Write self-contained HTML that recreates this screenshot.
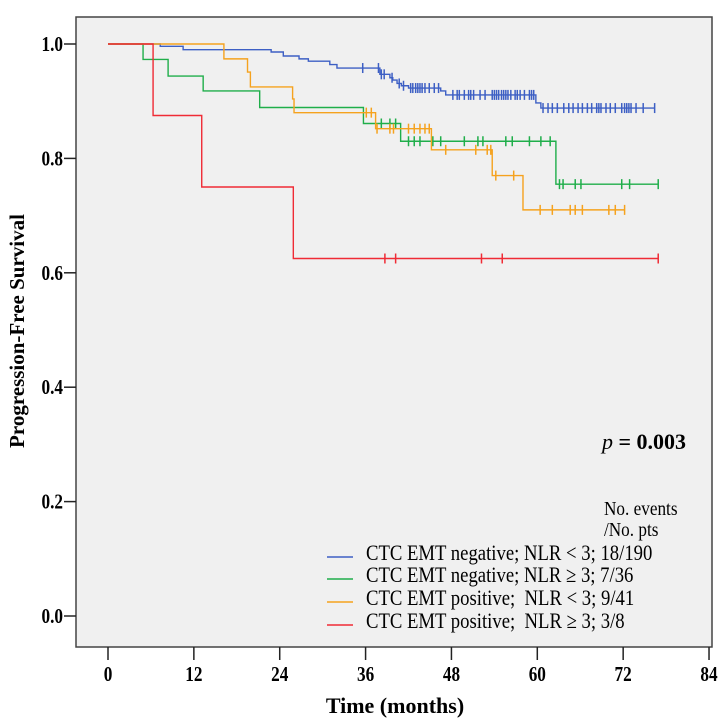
<!DOCTYPE html>
<html><head><meta charset="utf-8"><style>
html,body{margin:0;padding:0;background:#fff;}
svg{display:block;}
text{font-family:"Liberation Serif",serif;white-space:pre;}
</style></head><body>
<svg id="chart" width="724" height="723" viewBox="0 0 724 723">
<rect x="76" y="17" width="636" height="630" fill="#f0f0f0" stroke="#444" stroke-width="1.5"/>
<g id="axes"></g>
<g id="series"></g>
<text x="0" y="0" transform="translate(24,331) rotate(-90)" text-anchor="middle" font-size="21" font-weight="bold">Progression-Free Survival</text>
<text x="395" y="713" text-anchor="middle" font-size="22" font-weight="bold">Time (months)</text>
<text x="686" y="449" text-anchor="end" font-size="22"><tspan font-style="italic">p</tspan><tspan font-weight="bold"> = 0.003</tspan></text>
<g font-size="20">
<text x="604" y="515" transform="translate(604,0) scale(0.86,1) translate(-604,0)">No. events</text>
<text x="604" y="536" transform="translate(604,0) scale(0.86,1) translate(-604,0)">/No. pts</text>
</g>
<g id="legend-rows"></g>
</svg>
<script>
const xTicks=[0,12,24,36,48,60,72,84];
const yTicks=[0.0,0.2,0.4,0.6,0.8,1.0];
const seriesNames=["CTC EMT negative; NLR < 3; 18/190","CTC EMT negative; NLR \u2265 3; 7/36","CTC EMT positive;  NLR < 3; 9/41","CTC EMT positive;  NLR \u2265 3; 3/8"];
const seriesColors=["#3d5fc4","#1fae4a","#f5a21e","#ef2b35"];
const blueTimes=[7.3,10.5,22.8,24.5,26.7,28,31,32,38,39.4,39.8,40.4,41,42,46.5,47.2,59.8,60.5];
const blueSurv=[0.996,0.990,0.986,0.979,0.974,0.970,0.964,0.958,0.947,0.941,0.937,0.931,0.927,0.923,0.918,0.911,0.897,0.888];
const blueCens=[35.6,37.8,38.2,38.6,39.7,40.7,41.3,42.3,42.6,43.0,43.3,43.6,43.9,44.3,44.9,45.6,46.2,48.2,48.8,49.1,49.8,50.4,50.7,51.1,52.0,52.7,53.7,54.0,54.3,54.6,55.0,55.3,55.6,55.9,56.3,56.9,57.2,57.6,58.2,58.9,59.2,59.5,60.8,61.5,62.1,62.8,63.7,64.4,65.0,65.7,66.3,67.0,67.6,68.3,68.6,68.9,69.6,70.2,70.9,71.8,72.2,72.5,72.8,73.1,73.8,74.8,76.4];
const greenTimes=[4.9,8.4,13.3,21.2,35.7,40.9,62.6];
const greenSurv=[0.973,0.944,0.918,0.889,0.861,0.830,0.755];
const greenCens=[38.2,39.4,40.2,42.0,42.8,43.6,45.4,46.5,49.8,51.7,52.4,55.6,56.5,58.9,60.5,61.8,63.1,63.6,65.3,66.1,71.8,72.9,76.9];
const orangeTimes=[16.2,19.5,19.9,25.8,26.0,37.4,45.2,53.7,58.0];
const orangeSurv=[0.974,0.951,0.925,0.904,0.880,0.852,0.815,0.770,0.710];
const orangeCens=[36.1,36.8,37.6,39.4,39.9,42.0,42.8,43.6,44.3,44.9,47.2,51.4,53.0,53.5,54.2,56.7,60.4,62.1,64.6,65.3,66.3,70.0,70.9,72.2];
const redTimes=[6.3,13.1,25.9];
const redSurv=[0.875,0.750,0.625];
const redCens=[38.7,40.2,52.2,55.1,76.9];
const endTimes=[76.4,76.9,72.2,76.9];

const NS="http://www.w3.org/2000/svg";
function xs(m){return 108+m*7.155;}
function ys(v){return 616-v*572;}
function mk(tag,attrs,parent){const e=document.createElementNS(NS,tag);for(const k in attrs)e.setAttribute(k,attrs[k]);parent.appendChild(e);return e;}
const axes=document.getElementById('axes');
xTicks.forEach(t=>{
  const l=mk('line',{x1:xs(t),x2:xs(t),y1:647,y2:660,stroke:'#222','stroke-width':1.5},axes);
  
  
  const x=xs(t);
  const tx=mk('text',{x:x,y:681,'text-anchor':'middle','font-size':21,'font-weight':'bold',transform:'translate('+x+',0) scale(0.82,1) translate('+(-x)+',0)'},axes);
  tx.textContent=t;
  
  
});
yTicks.forEach(t=>{
  const l=mk('line',{x1:64,x2:76,y1:ys(t),y2:ys(t),stroke:'#222','stroke-width':1.5},axes);
  
  
  const tx=mk('text',{x:63,y:ys(t)+7,'text-anchor':'end','font-size':21,'font-weight':'bold',transform:'translate(63,0) scale(0.82,1) translate(-63,0)'},axes);
  tx.textContent=t.toFixed(1);
  
  
});
const sg=document.getElementById('series');
const all=[[blueTimes,blueSurv,blueCens],[greenTimes,greenSurv,greenCens],[orangeTimes,orangeSurv,orangeCens],[redTimes,redSurv,redCens]];
function survAt(times,surv,t){let s=1;for(let i=0;i<times.length;i++){if(times[i]<=t)s=surv[i];}return s;}
all.forEach((s,i)=>{
  const [times,surv,cens]=s;
  let d='M'+xs(0)+','+ys(1);
  times.forEach((t,j)=>{d+=' H'+xs(t)+' V'+ys(surv[j]);});
  d+=' H'+xs(endTimes[i]);
  const p=mk('path',{d:d,fill:'none',stroke:seriesColors[i],'stroke-width':1.4},sg);
  
  
  cens.forEach(c=>{
    const y=ys(survAt(times,surv,c));
    const l=mk('line',{x1:xs(c),x2:xs(c),y1:y-5,y2:y+5,stroke:seriesColors[i],'stroke-width':1.5},sg);
    
    
  });
});
const lg=document.getElementById('legend-rows');
const rowY=[553,575,598,621];
seriesNames.forEach((n,i)=>{
  const l=mk('line',{x1:327,x2:353,y1:rowY[i]+4,y2:rowY[i]+4,stroke:seriesColors[i],'stroke-width':1.5},lg);
  
  
  const t=mk('text',{x:366,y:rowY[i]+7,'font-size':22,transform:'translate(366,0) scale(0.85,1) translate(-366,0)'},lg);
  t.textContent=n;
  
  
});
</script>
</body></html>
